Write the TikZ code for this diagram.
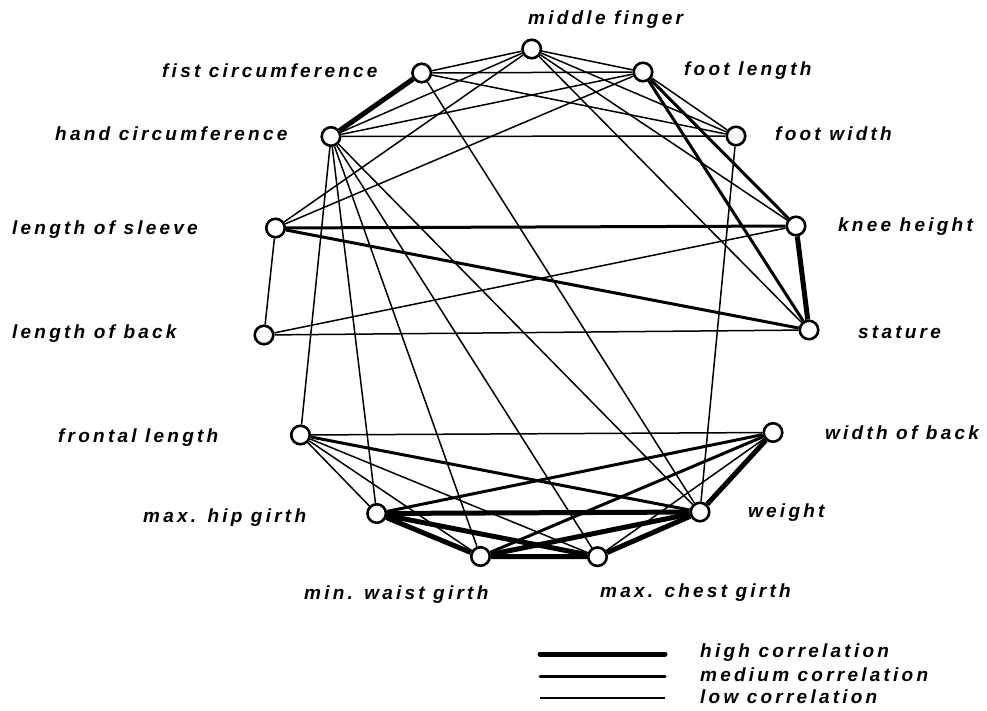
\documentclass[tikz,border=0pt]{standalone}
\usepackage{fontspec}
\setmainfont{Liberation Sans}
\newfontfamily\labfont[LetterSpace=17]{Liberation Sans}
\usetikzlibrary{backgrounds}
\begin{document}
\begin{tikzpicture}[x=1pt,y=-1pt,
  vtx/.style={circle,draw,line width=2.6pt,fill=white,minimum size=18.5pt,inner sep=0pt},
  lo/.style={line width=1.5pt},
  me/.style={line width=3pt},
  hi/.style={line width=5pt},
  lab/.style={font=\labfont\bfseries\itshape\fontsize{19}{21}\selectfont,inner sep=0pt,anchor=west}]
\useasboundingbox (0,0) rectangle (987,711);
% vertices
\node[vtx] (MF) at (531.7,49) {};
\node[vtx] (FC) at (421.7,73) {};
\node[vtx] (FL) at (643,72) {};
\node[vtx] (HC) at (331,136.5) {};
\node[vtx] (FW) at (736,136) {};
\node[vtx] (LS) at (275.5,228) {};
\node[vtx] (KH) at (796,226) {};
\node[vtx] (LB) at (264,335) {};
\node[vtx] (ST) at (809,330) {};
\node[vtx] (FR) at (300.5,435) {};
\node[vtx] (WB) at (773,432.5) {};
\node[vtx] (HG) at (376.7,513.5) {};
\node[vtx] (WE) at (700,512) {};
\node[vtx] (WG) at (480.5,556.5) {};
\node[vtx] (CG) at (597.5,556.7) {};
% labels
\node[lab] (tMF) at (528,20) {middle finger};
\node[lab] (tFC) at (162,71) {fist circumference};
\node[lab] (tFL) at (684,71) {foot length};
\node[lab] (tHC) at (55,134) {hand circumference};
\node[lab] (tFW) at (775,134) {foot width};
\node[lab] (tLS) at (12,230) {length of sleeve};
\node[lab] (tKH) at (838,227) {knee height};
\node[lab] (tLB) at (12,334) {length of back};
\node[lab] (tST) at (858,332) {stature};
\node[lab] (tFR) at (58,438) {frontal length};
\node[lab] (tWB) at (825,433) {width of back};
\node[lab] (tHG) at (143,518) {max. hip girth};
\node[lab] (tWE) at (748,513) {weight};
\node[lab] (tWG) at (304,595) {min. waist girth};
\node[lab] (tCG) at (600,593) {max. chest girth};
% legend
\coordinate (a1) at (540,654); \coordinate (b1) at (665,654);
\coordinate (a2) at (540,676); \coordinate (b2) at (665,676);
\coordinate (a3) at (540,698); \coordinate (b3) at (665,698);
\node[lab] (tH) at (700,653) {high correlation};
\node[lab] (tM) at (700,675) {medium correlation};
\node[lab] (tL) at (700,697) {low correlation};
\draw[hi,line cap=round] (a1) -- (b1);
\draw[me,line cap=round] (a2) -- (b2);
\draw[lo] (a3) -- (b3);
\begin{pgfonlayer}{background}
% low
\draw[lo] (MF) -- (FC);
\draw[lo] (MF) -- (FL);
\draw[lo] (MF) -- (HC);
\draw[lo] (MF) -- (LS);
\draw[lo] (MF) -- (FW);
\draw[lo] (MF) -- (KH);
\draw[lo] (MF) -- (ST);
\draw[lo] (FC) -- (FL);
\draw[lo] (FC) -- (FW);
\draw[lo] (FC) -- (WE);
\draw[lo] (FL) -- (HC);
\draw[lo] (FL) -- (LS);
\draw[lo] (FL) -- (FW);
\draw[lo] (HC) -- (FW);
\draw[lo] (HC) -- (FR);
\draw[lo] (HC) -- (HG);
\draw[lo] (HC) -- (WG);
\draw[lo] (HC) -- (CG);
\draw[lo] (HC) -- (WE);
\draw[lo] (LS) -- (LB);
\draw[lo] (LB) -- (KH);
\draw[lo] (LB) -- (ST);
\draw[lo] (FW) -- (WE);
\draw[lo] (FR) -- (WB);
\draw[lo] (FR) -- (CG);
\draw[lo] (FR) -- (WG);
\draw[lo] (FR) -- (HG);
\draw[lo] (WB) -- (CG);
% medium
\draw[me] (LS) -- (KH);
\draw[me] (LS) -- (ST);
\draw[me] (FL) -- (KH);
\draw[me] (FL) -- (ST);
\draw[me] (FR) -- (WE);
\draw[me] (HG) -- (WB);
\draw[me] (WG) -- (WB);
% high
\draw[hi] (FC) -- (HC);
\draw[hi] (KH) -- (ST);
\draw[hi] (HG) -- (WE);
\draw[hi] (HG) -- (CG);
\draw[hi] (HG) -- (WG);
\draw[hi] (WG) -- (CG);
\draw[hi] (WG) -- (WE);
\draw[hi] (CG) -- (WE);
\draw[hi] (WB) -- (WE);
\end{pgfonlayer}
\end{tikzpicture}
\end{document}
